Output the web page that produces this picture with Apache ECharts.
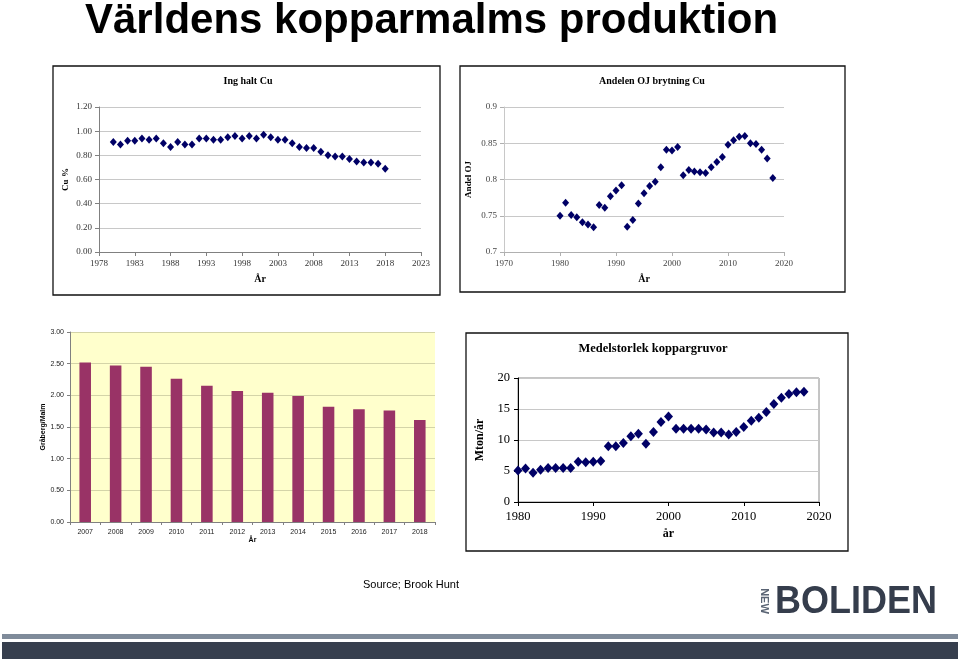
<!DOCTYPE html>
<html>
<head>
<meta charset="utf-8">
<script src="https://cdn.jsdelivr.net/npm/echarts@6/dist/echarts.min.js"></script>
<style>
html,body{margin:0;padding:0;background:#fff;}
#main{width:960px;height:661px;}
</style>
</head>
<body>
<div id="main"></div>
<script>
// ---- data ----
const years = [1980,1981,1982,1983,1984,1985,1986,1987,1988,1989,
               1990,1991,1992,1993,1994,1995,1996,1997,1998,1999,
               2000,2001,2002,2003,2004,2005,2006,2007,2008,2009,
               2010,2011,2012,2013,2014,2015,2016,2017,2018];
const cuGrade = [0.91,0.89,0.92,0.92,0.94,0.93,0.94,0.90,0.87,0.91,
                 0.89,0.89,0.94,0.94,0.93,0.93,0.95,0.96,0.94,0.96,
                 0.94,0.97,0.95,0.93,0.93,0.90,0.87,0.86,0.86,0.83,
                 0.80,0.79,0.79,0.77,0.75,0.74,0.74,0.73,0.69];
const ojShare = [0.750,0.768,0.751,0.748,0.741,0.738,0.734,0.765,0.761,0.777,
                 0.785,0.792,0.735,0.744,0.767,0.781,0.791,0.797,0.817,0.841,
                 0.840,0.845,0.806,0.813,0.811,0.810,0.809,0.817,0.824,0.831,
                 0.848,0.854,0.859,0.860,0.850,0.849,0.841,0.829,0.802];
const mineSize = [5.1,5.4,4.7,5.2,5.5,5.5,5.5,5.5,6.5,6.4,
                  6.5,6.6,9.0,9.0,9.5,10.6,11.0,9.4,11.3,12.9,
                  13.8,11.8,11.8,11.8,11.8,11.7,11.2,11.2,10.9,11.3,
                  12.1,13.1,13.6,14.5,15.8,16.8,17.4,17.7,17.8];
const barYears = ['2007','2008','2009','2010','2011','2012','2013','2014','2015','2016','2017','2018'];
const wasteRatio = [2.52,2.47,2.45,2.26,2.15,2.07,2.04,1.99,1.82,1.78,1.76,1.61];
const cuAxisStart = 1978;

// ---- chart ----
const chart = echarts.init(document.getElementById('main'), null, {renderer:'canvas'});
const serif = 'Liberation Serif';
const sans = 'Liberation Sans';
const navy = '#000066';

function smallLabel(extra){ return Object.assign({fontFamily:serif,fontSize:9,color:'#333'}, extra||{}); }

const option = {
  animation:false,
  backgroundColor:'#ffffff',
  grid:[
    {left:99, top:107, width:322, height:145},
    {left:504, top:107, width:280, height:145},
    {left:70, top:332, width:365, height:190, show:true, backgroundColor:'#FFFFCC', borderWidth:0},
    {left:518, top:378, width:301, height:124, show:true, borderColor:'#8a8a8a', borderWidth:1, backgroundColor:'transparent'}
  ],
  xAxis:[
    {type:'value', gridIndex:0, min:0, max:45, interval:5,
     axisLine:{show:true, lineStyle:{color:'#808080'}},
     axisTick:{show:true, length:4, lineStyle:{color:'#808080'}},
     splitLine:{show:false},
     axisLabel:smallLabel({margin:7, formatter:v=>String(v+cuAxisStart)}),
     name:'År', nameLocation:'middle', nameGap:22,
     nameTextStyle:{fontFamily:serif,fontSize:10,fontWeight:'bold',color:'#000'}},
    {type:'value', gridIndex:1, min:1970, max:2020, interval:10,
     axisLine:{show:true, lineStyle:{color:'#b0b0b0'}},
     axisTick:{show:true, length:4, lineStyle:{color:'#b0b0b0'}},
     splitLine:{show:false},
     axisLabel:smallLabel({margin:7, color:'#444', formatter:v=>String(v)}),
     name:'År', nameLocation:'middle', nameGap:22,
     nameTextStyle:{fontFamily:serif,fontSize:10,fontWeight:'bold',color:'#000'}},
    {type:'category', gridIndex:2, data:barYears,
     axisLine:{show:true, lineStyle:{color:'#808080'}},
     axisTick:{show:true, length:3, alignWithLabel:false, lineStyle:{color:'#808080'}},
     axisLabel:{fontFamily:sans,fontSize:7,color:'#222', margin:7},
     name:'År', nameLocation:'middle', nameGap:15,
     nameTextStyle:{fontFamily:sans,fontSize:7,fontWeight:'bold',color:'#000'}},
    {type:'value', gridIndex:3, min:1980, max:2020, interval:10,
     axisLine:{show:true, lineStyle:{color:'#000'}},
     axisTick:{show:true, length:4, lineStyle:{color:'#000'}},
     splitLine:{show:false},
     axisLabel:{fontFamily:serif,fontSize:12.5,color:'#000', margin:8, formatter:v=>String(v)},
     name:'år', nameLocation:'middle', nameGap:26,
     nameTextStyle:{fontFamily:serif,fontSize:12,fontWeight:'bold',color:'#000'}}
  ],
  yAxis:[
    {type:'value', gridIndex:0, min:0, max:1.2, interval:0.2,
     axisLine:{show:true, lineStyle:{color:'#808080'}},
     axisTick:{show:true, length:4, lineStyle:{color:'#808080'}},
     splitLine:{show:true, lineStyle:{color:'#c8c8c8'}},
     axisLabel:smallLabel({margin:7, formatter:v=>v.toFixed(2)}),
     name:'Cu %', nameLocation:'middle', nameGap:29,
     nameTextStyle:{fontFamily:serif,fontSize:9,fontWeight:'bold',color:'#000'}},
    {type:'value', gridIndex:1, min:0.7, max:0.9, interval:0.05,
     axisLine:{show:true, lineStyle:{color:'#c8c8c8'}},
     axisTick:{show:true, length:4, lineStyle:{color:'#b0b0b0'}},
     splitLine:{show:true, lineStyle:{color:'#c8c8c8'}},
     axisLabel:smallLabel({margin:7, color:'#444', formatter:v=>String(Math.round(v*100)/100)}),
     name:'Andel OJ', nameLocation:'middle', nameGap:31,
     nameTextStyle:{fontFamily:serif,fontSize:9,fontWeight:'bold',color:'#000'}},
    {type:'value', gridIndex:2, min:0, max:3, interval:0.5,
     axisLine:{show:true, lineStyle:{color:'#808080'}},
     axisTick:{show:true, length:3, lineStyle:{color:'#808080'}},
     splitLine:{show:true, lineStyle:{color:'#d4d4a8'}},
     axisLabel:{fontFamily:sans,fontSize:7,color:'#222', margin:6, formatter:v=>v.toFixed(2)},
     name:'Gråberg/Malm', nameLocation:'middle', nameGap:19,
     nameTextStyle:{fontFamily:sans,fontSize:7,fontWeight:'bold',color:'#000'}},
    {type:'value', gridIndex:3, min:0, max:20, interval:5,
     axisLine:{show:true, lineStyle:{color:'#000'}},
     axisTick:{show:true, length:4, lineStyle:{color:'#000'}},
     splitLine:{show:true, lineStyle:{color:'#c8c8c8'}},
     axisLabel:{fontFamily:serif,fontSize:12.5,color:'#000', margin:8},
     name:'Mton/år', nameLocation:'middle', nameGap:32,
     nameTextStyle:{fontFamily:serif,fontSize:12,fontWeight:'bold',color:'#000'}}
  ],
  series:[
    {type:'scatter', xAxisIndex:0, yAxisIndex:0, symbol:'diamond', symbolSize:[7,8],
     itemStyle:{color:navy, opacity:1}, data:years.map((y,i)=>[y-cuAxisStart, cuGrade[i]])},
    {type:'scatter', xAxisIndex:1, yAxisIndex:1, symbol:'diamond', symbolSize:[7,8],
     itemStyle:{color:navy, opacity:1}, data:years.map((y,i)=>[y, ojShare[i]])},
    {type:'bar', xAxisIndex:2, yAxisIndex:2, barWidth:'38%',
     itemStyle:{color:'#993366'}, data:wasteRatio},
    {type:'scatter', xAxisIndex:3, yAxisIndex:3, symbol:'diamond', symbolSize:[9,10],
     itemStyle:{color:navy, opacity:1}, data:years.map((y,i)=>[y, mineSize[i]])}
  ],
  graphic:[
    {type:'text', x:85, y:21, style:{text:'Världens kopparmalms produktion', fontFamily:sans, fontSize:42, fontWeight:'bold', fill:'#000', verticalAlign:'middle', align:'left'}},
    {type:'rect', shape:{x:53,y:66,width:387,height:229}, style:{fill:'none', stroke:'#111', lineWidth:1.3}},
    {type:'rect', shape:{x:460,y:66,width:385,height:226}, style:{fill:'none', stroke:'#111', lineWidth:1.3}},
    {type:'rect', shape:{x:466,y:333,width:382,height:218}, style:{fill:'none', stroke:'#111', lineWidth:1.3}},
    {type:'text', x:248, y:81, style:{text:'Ing halt Cu', fontFamily:serif, fontSize:10, fontWeight:'bold', fill:'#000', align:'center', verticalAlign:'middle'}},
    {type:'text', x:652, y:81, style:{text:'Andelen OJ brytning Cu', fontFamily:serif, fontSize:10, fontWeight:'bold', fill:'#000', align:'center', verticalAlign:'middle'}},
    {type:'text', x:653, y:349, style:{text:'Medelstorlek koppargruvor', fontFamily:serif, fontSize:12.5, fontWeight:'bold', fill:'#000', align:'center', verticalAlign:'middle'}},
    {type:'text', x:411, y:585, style:{text:'Source; Brook Hunt', fontFamily:sans, fontSize:11, fill:'#000', align:'center', verticalAlign:'middle'}},
    {type:'text', x:775, y:602, scaleY:1.1, style:{text:'BOLIDEN', fontFamily:sans, fontSize:36, fontWeight:'bold', fill:'#353d4c', align:'left', verticalAlign:'middle'}},
    {type:'text', x:764, y:601, rotation:-Math.PI/2, style:{text:'NEW', fontFamily:sans, fontSize:11, fontWeight:'bold', fill:'#5a6474', align:'center', verticalAlign:'middle'}},
    {type:'rect', shape:{x:2,y:634,width:956,height:5}, style:{fill:'#7f8b9a'}},
    {type:'rect', shape:{x:2,y:642,width:956,height:17}, style:{fill:'#373f4e'}}
  ]
};
chart.setOption(option);
</script>
</body>
</html>
